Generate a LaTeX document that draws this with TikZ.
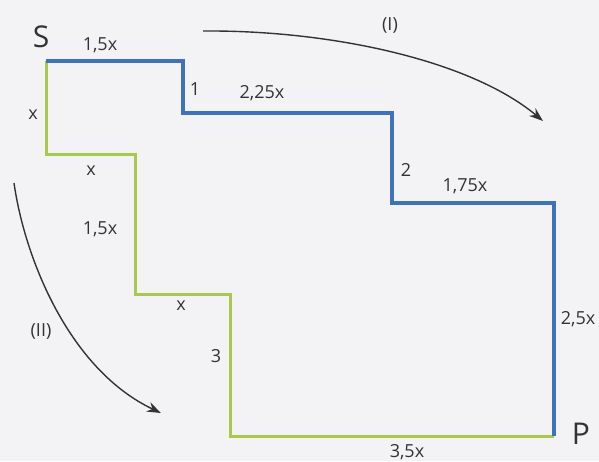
\documentclass[tikz,border=0pt]{standalone}
\usepackage{fontspec}
\setmainfont{Open Sans}
\usetikzlibrary{arrows.meta}
\definecolor{pathblue}{HTML}{3F72B8}
\definecolor{pathgreen}{HTML}{A9C94C}
\definecolor{ink}{HTML}{333333}
\definecolor{paper}{HTML}{F3F3F6}
\begin{document}
\begin{tikzpicture}[x=1pt,y=-1pt,
  lbl/.style={text=ink,font=\fontsize{18}{21}\selectfont,inner sep=0pt},
  big/.style={text=ink,font=\fontsize{30}{33}\selectfont,inner sep=0pt},
  bluepath/.style={draw=pathblue,line width=3.4pt,line join=miter},
  greenpath/.style={draw=pathgreen,line width=3pt,line join=miter},
  curved/.style={draw=ink,line width=1.4pt,-{Stealth[length=14pt,width=10pt]}}]
\fill[paper] (0,0) rectangle (599,461);
\useasboundingbox (0,0) rectangle (599,461);
\coordinate (S) at (46,61);
\coordinate (P) at (554,436);
\coordinate (b1) at (183,61);
\coordinate (b2) at (183,113);
\coordinate (b3) at (392,113);
\coordinate (b4) at (392,203);
\coordinate (b5) at (554,203);
\coordinate (g1) at (46,154);
\coordinate (g2) at (135,154);
\coordinate (g3) at (135,294);
\coordinate (g4) at (230,294);
\coordinate (g5) at (230,436);
\draw[greenpath] (S) -- (g1) -- (g2) -- (g3) -- (g4) -- (g5) -- (P);
\draw[bluepath] (S) -- (b1) -- (b2) -- (b3) -- (b4) -- (b5) -- (P);
\node[big] (lS) at (41,37) {S};
\node[big] (lP) at (581,434) {P};
\node[lbl] (t1) at (100,45) {1,5x};
\node[lbl] (t2) at (195,89) {1};
\node[lbl] (t3) at (262,93) {2,25x};
\node[lbl] (t4) at (406,170) {2};
\node[lbl] (t5) at (465,186) {1,75x};
\node[lbl] (t6) at (578,319) {2,5x};
\node[lbl] (t7) at (407,452) {3,5x};
\node[lbl] (t8) at (33,115) {x};
\node[lbl] (t9) at (91,171) {x};
\node[lbl] (t10) at (100,229) {1,5x};
\node[lbl] (t11) at (181,306) {x};
\node[lbl] (t12) at (216,356) {3};
\node[lbl] (rI) at (390,25) {(I)};
\node[lbl] (rII) at (41,331) {(II)};
\coordinate (a1s) at (203,31);
\coordinate (a1e) at (543,121);
\coordinate (a2s) at (14,183);
\coordinate (a2e) at (161,413);
\draw[curved] (a1s) .. controls (330,30) and (470,60) .. (a1e);
\draw[curved] (a2s) .. controls (25,260) and (70,370) .. (a2e);
\end{tikzpicture}
\end{document}
